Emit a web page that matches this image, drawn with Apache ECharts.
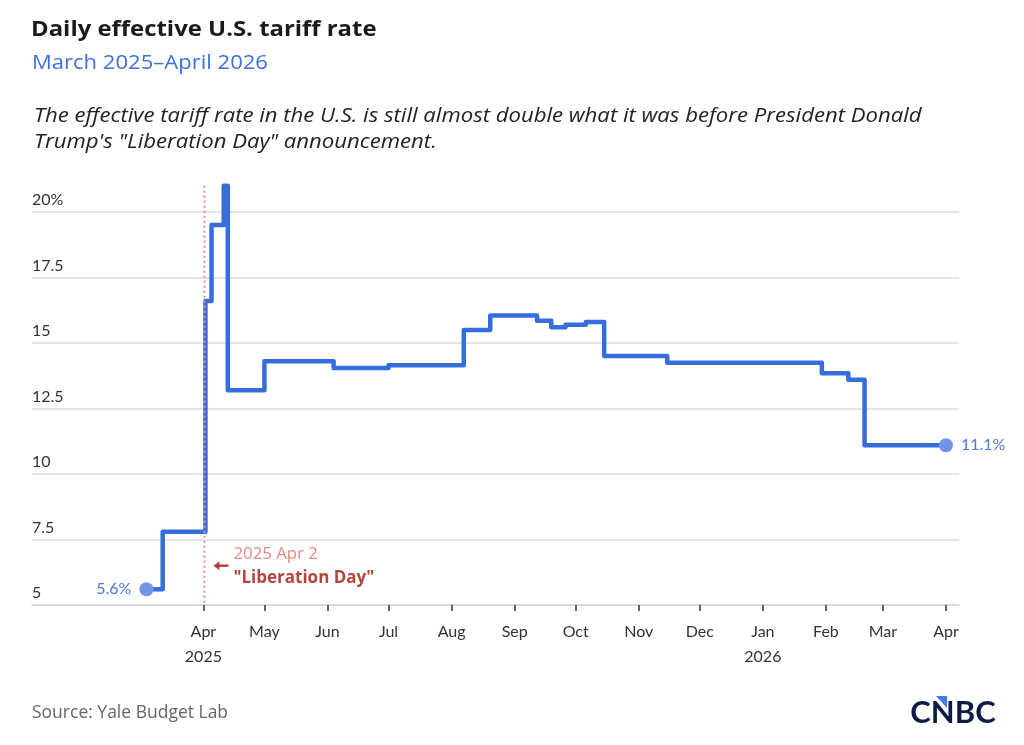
<!DOCTYPE html>
<html>
<head>
<meta charset="utf-8">
<script src="https://cdn.jsdelivr.net/npm/echarts@6/dist/echarts.min.js"></script>
<style>
  html, body { margin: 0; padding: 0; background: #fff; }
  #chart { width: 1024px; height: 745px; }
</style>
</head>
<body>
<div id="chart"></div>
<script>
// ---- Data ----
const changeDates = ['2025-03-04','2025-03-12','2025-04-02','2025-04-05','2025-04-11','2025-04-13','2025-05-01','2025-06-04','2025-07-01','2025-08-07','2025-08-20','2025-09-12','2025-09-19','2025-09-26','2025-10-06','2025-10-15','2025-11-15','2026-01-30','2026-02-12','2026-02-20','2026-04-01'];
const rateValues  = [5.6, 7.8, 16.6, 19.5, 21.0, 13.2, 14.3, 14.05, 14.15, 15.5, 16.05, 15.85, 15.6, 15.7, 15.8, 14.5, 14.25, 13.85, 13.6, 11.1, 11.1];
const tickDates  = ['2025-04-01','2025-05-01','2025-06-01','2025-07-01','2025-08-01','2025-09-01','2025-10-01','2025-11-01','2025-12-01','2026-01-01','2026-02-01','2026-03-01','2026-04-01'];
const tickLabels = ['Apr\n2025','May','Jun','Jul','Aug','Sep','Oct','Nov','Dec','Jan\n2026','Feb','Mar','Apr'];
const yTicks = [5, 7.5, 10, 12.5, 15, 17.5, 20];
const yTickLabels = ['5', '7.5', '10', '12.5', '15', '17.5', '20%'];
const liberationDay = '2025-04-02';
const axisRange = ['2025-01-06T18:00:00Z', '2026-04-07T10:00:00Z'];

const FONT = 'Lato, "Open Sans", sans-serif';
const TFONT = '"Open Sans", Lato, sans-serif';
const toTs = s => Date.parse(s);
const tickTs = tickDates.map(toTs);
const labelMap = {};
tickTs.forEach((t, i) => { labelMap[t] = tickLabels[i]; });
const yLabelMap = {};
yTicks.forEach((v, i) => { yLabelMap[v] = yTickLabels[i]; });

const n = changeDates.length;
const seriesData = changeDates.map((d, i) => {
  const item = { value: [toTs(d), rateValues[i]] };
  if (i === 0 || i === n - 1) {
    item.symbol = 'circle';
    item.symbolSize = 14;
    item.itemStyle = { color: '#6f95e8' };
    item.label = {
      show: true,
      position: i === 0 ? 'left' : 'right',
      distance: 8,
      formatter: rateValues[i].toFixed(1) + '%',
      color: '#4a77e0',
      fontSize: 16,
      fontFamily: FONT
    };
  }
  return item;
});

const chart = echarts.init(document.getElementById('chart'), null, { renderer: 'canvas' });

const option = {
  backgroundColor: '#fff',
  animation: false,
  textStyle: { fontFamily: FONT },
  grid: { left: 32, right: 65, top: 212, bottom: 140, containLabel: false },
  xAxis: {
    type: 'value',
    min: toTs(axisRange[0]),
    max: toTs(axisRange[1]),
    axisLine: { show: true, lineStyle: { color: '#d6d6d6', width: 1.5 } },
    axisTick: { show: true, customValues: tickTs, length: 6, lineStyle: { color: '#333', width: 1.5 } },
    splitLine: { show: false },
    axisLabel: {
      customValues: tickTs,
      formatter: v => labelMap[v] || '',
      color: '#333',
      fontSize: 16,
      lineHeight: 25,
      margin: 14,
      fontFamily: FONT,
      hideOverlap: false
    }
  },
  yAxis: {
    type: 'value',
    min: 5,
    max: 20,
    interval: 2.5,
    axisLine: { show: false },
    axisTick: { show: false },
    splitLine: { show: true, lineStyle: { color: '#dcdcdc', width: 1.5 } },
    axisLabel: {
      inside: true,
      margin: 0,
      verticalAlign: 'bottom',
      padding: [0, 0, 4, 0],
      formatter: v => yLabelMap[v] || '',
      color: '#333',
      fontSize: 16,
      fontFamily: FONT
    }
  },
  series: [{
    type: 'line',
    step: 'end',
    clip: false,
    symbol: 'none',
    data: seriesData,
    lineStyle: { color: '#356ddd', width: 4.5, join: 'round', cap: 'round' },
    itemStyle: { color: '#356ddd' },
    z: 5
  }]
};
chart.setOption(option);

// ---- Annotations (titles, Liberation Day marker, source, logo) ----
const xLib = chart.convertToPixel({ xAxisIndex: 0 }, toTs(liberationDay)) - 1;
const yTop = chart.convertToPixel({ yAxisIndex: 0 }, 21);
const yBot = chart.convertToPixel({ yAxisIndex: 0 }, 5);
const yAnn = chart.convertToPixel({ yAxisIndex: 0 }, 6.5);

chart.setOption({
  graphic: [
    { type: 'text', x: 31, y: 30, scaleX: 1.086, style: { text: 'Daily effective U.S. tariff rate', fill: '#1a1a1a', font: 'bold 22px ' + TFONT, verticalAlign: 'middle' } },
    { type: 'text', x: 32, y: 63, scaleX: 1.13, style: { text: 'March 2025–April 2026', fill: '#3d6fe0', font: '19.5px ' + TFONT, verticalAlign: 'middle' } },
    { type: 'text', x: 34, y: 116, scaleX: 1.106, style: { text: 'The effective tariff rate in the U.S. is still almost double what it was before President Donald', fill: '#222', font: 'italic 20px ' + TFONT, verticalAlign: 'middle' } },
    { type: 'text', x: 34, y: 142, scaleX: 1.106, style: { text: 'Trump\'s "Liberation Day" announcement.', fill: '#222', font: 'italic 20px ' + TFONT, verticalAlign: 'middle' } },
    { type: 'line', z: 10, shape: { x1: xLib, y1: yTop, x2: xLib, y2: yBot }, style: { stroke: '#ef8c82', lineWidth: 2, lineDash: [2, 3] } },
    { type: 'line', z: 10, shape: { x1: xLib + 24, y1: yAnn, x2: xLib + 12, y2: yAnn }, style: { stroke: '#b3463b', lineWidth: 2.5 } },
    { type: 'polygon', z: 10, shape: { points: [[xLib + 9, yAnn], [xLib + 15, yAnn - 4.5], [xLib + 15, yAnn + 4.5]] }, style: { fill: '#b3463b' } },
    { type: 'text', z: 10, x: xLib + 29, y: yAnn - 11, scaleX: 1.05, style: { text: '2025 Apr 2', fill: '#dd8b82', font: '16px ' + TFONT, verticalAlign: 'middle', align: 'left' } },
    { type: 'text', z: 10, x: xLib + 29, y: yAnn + 12, style: { text: '"Liberation Day"', fill: '#b3463b', font: 'bold 17px ' + TFONT, verticalAlign: 'middle', align: 'left' } },
    { type: 'text', x: 32, y: 713, style: { text: 'Source: Yale Budget Lab', fill: '#666', font: '17.5px ' + TFONT, verticalAlign: 'middle' } },
    { type: 'polygon', shape: { points: [[936, 696], [947, 696], [947, 708]] }, style: { fill: '#3f7cf0' } },
    { type: 'text', x: 953, y: 713, style: { text: 'CNBC', fill: '#0f1b47', font: 'bold 31px ' + FONT, align: 'center', verticalAlign: 'middle' } }
  ]
});
</script>
</body>
</html>
